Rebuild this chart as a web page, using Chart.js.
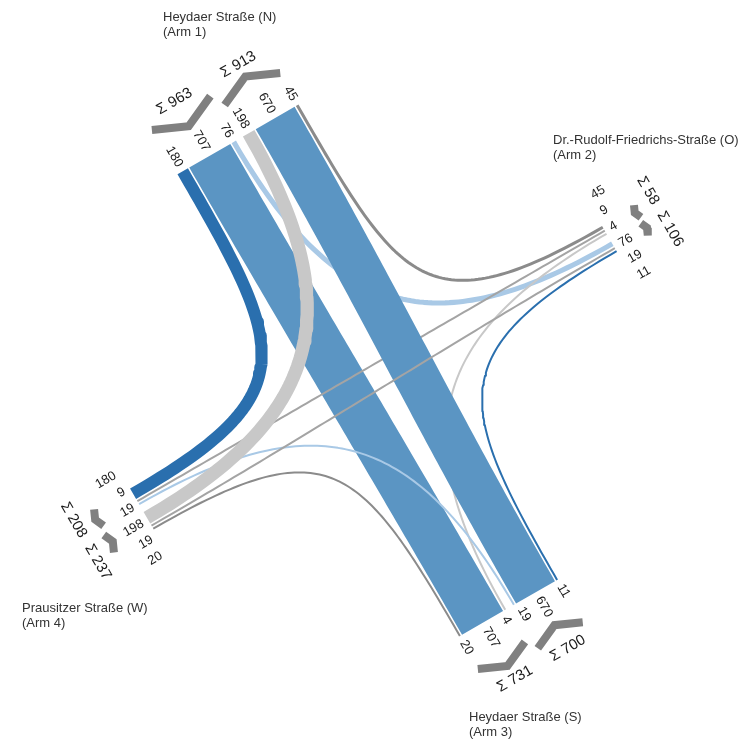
<!DOCTYPE html>
<html>
<head>
<meta charset="utf-8">
<title>Knotenstromdiagramm</title>
<script src="https://cdn.jsdelivr.net/npm/chart.js@4.4.1/dist/chart.umd.min.js"></script>
<style>
  html, body { margin: 0; padding: 0; background: #fff; }
  #wrap { width: 749px; height: 743px; position: relative; }
</style>
</head>
<body>
<div id="wrap"><canvas id="chart"></canvas></div>
<script>
// arms, clockwise: N, O, S, W
const armNames = ['Heydaer Straße (N)', 'Dr.-Rudolf-Friedrichs-Straße (O)', 'Heydaer Straße (S)', 'Prausitzer Straße (W)'];
const armNumbers = ['(Arm 1)', '(Arm 2)', '(Arm 3)', '(Arm 4)'];

// vehicles from one arm to arm [N, O, S, W]
const fromN = [0, 76, 707, 180];
const fromO = [45, 0, 4, 9];
const fromS = [670, 11, 0, 19];
const fromW = [198, 19, 20, 0];
const flows = [fromN, fromO, fromS, fromW];

// colours by origin road and turn
const blueShades = { right: '#2a6fae', straight: '#5b95c3', left: '#a9c9e6' };
const grayShades = { right: '#8b8b8b', straight: '#a4a4a4', left: '#c8c8c8' };

const DEG = Math.PI / 180;
const center = { x: 374, y: 375 };
const armDist = [272, 272, 269, 268];
const pxPerVeh = 0.067;
const minBand = 2, bandGap = 1.5, midGap = 8;
const handle = 0.75;
const labelFont = '13px "Liberation Sans", Arial, sans-serif';
const sumFont = '15px "Liberation Sans", Arial, sans-serif';

function outward(i) {
    const a = (-120 + 90 * i) * DEG;
    return { x: Math.cos(a), y: Math.sin(a) };
}
function lateral(i) { const o = outward(i); return { x: o.y, y: -o.x }; }
function armPoint(i, along, side) {
    const o = outward(i), r = lateral(i);
    return { x: center.x + o.x * along + r.x * side, y: center.y + o.y * along + r.y * side };
}
function bandWidth(v) { return Math.max(minBand, v * pxPerVeh); }

const mctx = document.createElement('canvas').getContext('2d');
function textLen(txt, font) { mctx.font = font; return mctx.measureText(txt).width; }

function spread(pos, gap) {
    const p = pos.slice();
    for (let it = 0; it < 400; it++) {
        let moved = false;
        for (let j = 0; j < p.length - 1; j++) {
            const d = p[j] - p[j + 1];
            if (d < gap - 0.01) { const push = (gap - d) / 2; p[j] += push; p[j + 1] -= push; moved = true; }
        }
        if (!moved) break;
    }
    return p;
}

// slot positions of every flow at both ends
const startSide = [[], [], [], []], endSide = [[], [], [], []];
const armInfo = [];
for (let i = 0; i < 4; i++) {
    const outB = [3, 2, 1].map(k => ({ other: (i + k) % 4, value: flows[i][(i + k) % 4] }));
    const inB = [3, 2, 1].map(k => ({ other: (i + k) % 4, value: flows[(i + k) % 4][i] }));
    const groupW = list => list.reduce((s, b) => s + bandWidth(b.value), 0) + bandGap * (list.length - 1);
    const outW = groupW(outB), inW = groupW(inB);
    let s = (outW + midGap + inW) / 2;
    const outCenter = s - outW / 2;
    outB.forEach(b => { const w = bandWidth(b.value); b.side = s - w / 2; startSide[i][b.other] = b.side; s -= w + bandGap; });
    s += bandGap - midGap;
    const inCenter = s - inW / 2;
    inB.forEach(b => { const w = bandWidth(b.value); b.side = s - w / 2; endSide[b.other][i] = b.side; s -= w + bandGap; });

    const bands = outB.concat(inB);
    const labelSides = spread(bands.map(b => b.side), 18.5);
    const maxLen = Math.max(...bands.map(b => textLen(String(b.value), labelFont)));
    const chevDist = 6 + maxLen + 16;
    const outSum = outB.reduce((a, b) => a + b.value, 0);
    const inSum = inB.reduce((a, b) => a + b.value, 0);
    const sumTexts = ['Σ ' + outSum, 'Σ ' + inSum];
    const lens = sumTexts.map(t => textLen(t, sumFont));
    const sumSides = spread([outCenter, inCenter], (lens[0] + lens[1]) / 2 + 10);
    armInfo.push({ bands, labelSides, outW, inW, outCenter, inCenter, chevDist, sumTexts, sumSides });
}

function flowPath(a, b) {
    const oa = outward(a), ob = outward(b);
    const p0 = armPoint(a, armDist[a], startSide[a][b]);
    const p3 = armPoint(b, armDist[b], endSide[a][b]);
    const p1 = { x: p0.x - oa.x * handle * armDist[a], y: p0.y - oa.y * handle * armDist[a] };
    const p2 = { x: p3.x - ob.x * handle * armDist[b], y: p3.y - ob.y * handle * armDist[b] };
    const pts = [];
    for (let j = 0; j <= 90; j++) {
        const t = j / 90, m = 1 - t;
        pts.push({
            x: m * m * m * p0.x + 3 * m * m * t * p1.x + 3 * m * t * t * p2.x + t * t * t * p3.x,
            y: m * m * m * p0.y + 3 * m * m * t * p1.y + 3 * m * t * t * p2.y + t * t * t * p3.y
        });
    }
    return pts;
}

const datasets = [];
let drawIdx = 0;
for (let a = 0; a < 4; a++) {
    const targets = [1, 2, 3].map(k => (a + k) % 4).sort((p, q) => flows[a][q] - flows[a][p]);
    targets.forEach(b => {
        const v = flows[a][b];
        if (!v) return;
        const turn = (b - a + 4) % 4;
        const shades = a % 2 === 0 ? blueShades : grayShades;
        const color = turn === 1 ? shades.left : turn === 2 ? shades.straight : shades.right;
        datasets.push({
            label: armNames[a] + ' → ' + armNames[b],
            data: flowPath(a, b),
            showLine: true,
            borderColor: color,
            backgroundColor: color,
            borderWidth: bandWidth(v),
            borderCapStyle: 'butt',
            borderJoinStyle: 'round',
            pointRadius: 0,
            fill: false,
            order: 100 - drawIdx++
        });
    });
}

// direction chevrons beside each arm
function chevron(i, sideCenter, halfW, dist, pointsIn) {
    const depth = 0.45 * halfW;
    const endD = pointsIn ? dist + depth / 2 : dist - depth / 2;
    const tipD = pointsIn ? dist - depth / 2 : dist + depth / 2;
    return [
        armPoint(i, armDist[i] + endD, sideCenter + halfW),
        armPoint(i, armDist[i] + tipD, sideCenter),
        armPoint(i, armDist[i] + endD, sideCenter - halfW)
    ];
}
armInfo.forEach((info, i) => {
    [[info.outCenter, info.outW, true], [info.inCenter, info.inW, false]].forEach(([c, w, inward]) => {
        datasets.push({
            label: 'chevron',
            data: chevron(i, c, Math.max(w / 2, 7), info.chevDist, inward),
            showLine: true,
            borderColor: '#808080',
            borderWidth: 8,
            borderCapStyle: 'butt',
            borderJoinStyle: 'miter',
            pointRadius: 0,
            fill: false,
            order: 0
        });
    });
});

const labelPlugin = {
    id: 'armLabels',
    afterDatasetsDraw(chart) {
        const { ctx } = chart;
        const xs = chart.scales.x, ys = chart.scales.y;
        const px = p => ({ x: xs.getPixelForValue(p.x), y: ys.getPixelForValue(p.y) });
        ctx.save();
        ctx.fillStyle = '#1a1a1a';
        ctx.textBaseline = 'middle';
        armInfo.forEach((info, i) => {
            const o = outward(i), r = lateral(i);
            // value labels, written along the arm
            const along = o.x > 0 ? o : { x: -o.x, y: -o.y };
            const ang = Math.atan2(along.y, along.x);
            ctx.font = labelFont;
            info.bands.forEach((b, j) => {
                const p = px(armPoint(i, armDist[i] + 6, info.labelSides[j]));
                ctx.save();
                ctx.translate(p.x, p.y);
                ctx.rotate(ang);
                ctx.textAlign = o.x > 0 ? 'left' : 'right';
                ctx.fillText(String(b.value), 0, 0);
                ctx.restore();
            });
            // sums, written across the arm
            const across = r.x > 0 ? r : { x: -r.x, y: -r.y };
            const ang2 = Math.atan2(across.y, across.x);
            ctx.font = sumFont;
            info.sumTexts.forEach((t, j) => {
                const p = px(armPoint(i, armDist[i] + info.chevDist + 21, info.sumSides[j]));
                ctx.save();
                ctx.translate(p.x, p.y);
                ctx.rotate(ang2);
                ctx.textAlign = 'center';
                ctx.fillText(t, 0, 0);
                ctx.restore();
            });
        });
        // arm names
        const namePos = [[163, 17], [553, 140], [469, 717], [22, 608]];
        ctx.font = labelFont;
        ctx.fillStyle = '#333';
        ctx.textAlign = 'left';
        namePos.forEach(([x, y], i) => {
            ctx.fillText(armNames[i], x, y);
            ctx.fillText(armNumbers[i], x, y + 15);
        });
        ctx.restore();
    }
};

new Chart(document.getElementById('chart'), {
    type: 'scatter',
    data: { datasets },
    options: {
        animation: false,
        responsive: true,
        maintainAspectRatio: false,
        events: [],
        layout: { padding: 0 },
        plugins: { legend: { display: false }, tooltip: { enabled: false }, title: { display: false } },
        scales: {
            x: { type: 'linear', min: 0, max: 749, display: false },
            y: { type: 'linear', min: 0, max: 743, reverse: true, display: false }
        },
        elements: { line: { tension: 0 } }
    },
    plugins: [labelPlugin]
});
</script>
</body>
</html>
